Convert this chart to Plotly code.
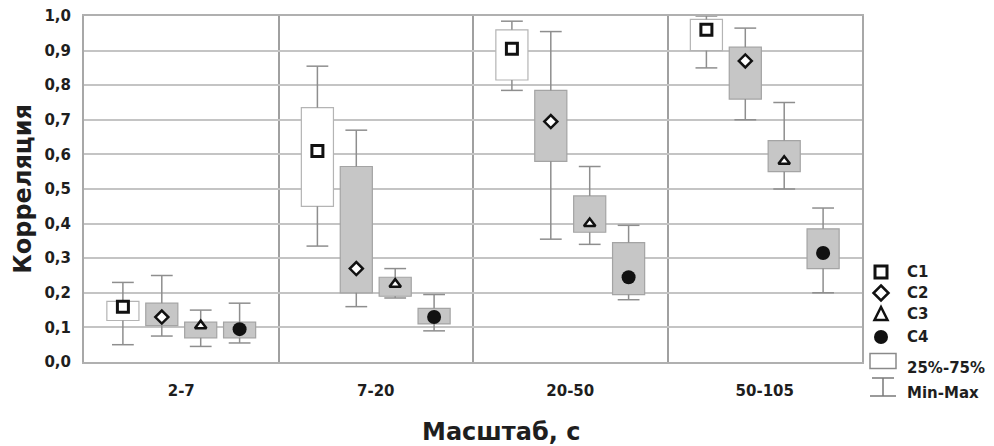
import plotly.graph_objects as go

# Scale bands (x categories) and the four correlation series
categories = ["2-7", "7-20", "20-50", "50-105"]
series_names = ["C1", "C2", "C3", "C4"]

# Per-series statistics for each scale band: min, 25%, marker value, 75%, max
c1_min = [0.050, 0.335, 0.785, 0.850]
c1_q1 = [0.120, 0.450, 0.815, 0.900]
c1_mid = [0.160, 0.610, 0.905, 0.960]
c1_q3 = [0.175, 0.735, 0.960, 0.990]
c1_max = [0.230, 0.855, 0.985, 1.000]

c2_min = [0.075, 0.160, 0.355, 0.700]
c2_q1 = [0.105, 0.200, 0.580, 0.760]
c2_mid = [0.130, 0.270, 0.695, 0.870]
c2_q3 = [0.170, 0.565, 0.785, 0.910]
c2_max = [0.250, 0.670, 0.955, 0.965]

c3_min = [0.045, 0.185, 0.340, 0.500]
c3_q1 = [0.070, 0.190, 0.375, 0.550]
c3_mid = [0.105, 0.225, 0.400, 0.580]
c3_q3 = [0.115, 0.245, 0.480, 0.640]
c3_max = [0.150, 0.270, 0.565, 0.750]

c4_min = [0.055, 0.090, 0.180, 0.200]
c4_q1 = [0.070, 0.110, 0.195, 0.270]
c4_mid = [0.095, 0.130, 0.245, 0.315]
c4_q3 = [0.115, 0.155, 0.345, 0.385]
c4_max = [0.170, 0.195, 0.395, 0.445]

y_ticks = [round(0.1 * i, 1) for i in range(11)]

stats = [
    (c1_min, c1_q1, c1_mid, c1_q3, c1_max),
    (c2_min, c2_q1, c2_mid, c2_q3, c2_max),
    (c3_min, c3_q1, c3_mid, c3_q3, c3_max),
    (c4_min, c4_q1, c4_mid, c4_q3, c4_max),
]

# Styling
FONT = dict(family="DejaVu Sans", size=15, color="#1e1e1e", weight="bold")
TITLE_FONT = dict(family="DejaVu Sans", size=24, color="#1e1e1e", weight="bold")
box_fill = ["#ffffff", "#c6c6c6", "#c6c6c6", "#c6c6c6"]
box_line = ["#b4b4b4", "#a4a4a4", "#a4a4a4", "#a4a4a4"]
whisker_color = "#8e8e8e"
markers = [
    dict(symbol="square", size=11, color="#ffffff", line=dict(color="#111111", width=3)),
    dict(symbol="diamond", size=10, color="#ffffff", line=dict(color="#111111", width=2.5)),
    dict(symbol="triangle-up", size=10, color="#ffffff", line=dict(color="#111111", width=2.5)),
    dict(symbol="circle", size=14, color="#111111", line=dict(color="#111111", width=0)),
]
offsets = [-0.3, -0.1, 0.1, 0.3]
box_width = 0.165
cap_half = 0.056

fig = go.Figure()
cat_pos = list(range(len(categories)))

# Interquartile boxes
for k, (vmin, q1, mid, q3, vmax) in enumerate(stats):
    xs = [c + offsets[k] for c in cat_pos]
    fig.add_trace(go.Bar(
        x=xs, base=q1, y=[b - a for a, b in zip(q1, q3)], width=box_width,
        marker=dict(color=box_fill[k], line=dict(color=box_line[k], width=1.2)),
        showlegend=False, hoverinfo="skip",
    ))

# Min-Max whiskers with caps
for k, (vmin, q1, mid, q3, vmax) in enumerate(stats):
    wx, wy = [], []
    for c, lo, a, b, hi in zip(cat_pos, vmin, q1, q3, vmax):
        x = c + offsets[k]
        wx += [x, x, None, x, x, None, x - cap_half, x + cap_half, None, x - cap_half, x + cap_half, None]
        wy += [lo, a, None, b, hi, None, lo, lo, None, hi, hi, None]
    fig.add_trace(go.Scatter(
        x=wx, y=wy, mode="lines", line=dict(color=whisker_color, width=1.5),
        showlegend=False, hoverinfo="skip", cliponaxis=False,
    ))

# Series markers
for k, (vmin, q1, mid, q3, vmax) in enumerate(stats):
    fig.add_trace(go.Scatter(
        x=[c + offsets[k] for c in cat_pos], y=mid, mode="markers",
        marker=markers[k], name=series_names[k], showlegend=False, cliponaxis=False,
    ))

# Plot area in pixels
L, R, T, B = 84, 132, 16, 84
W, H = 994, 446
pw, ph = W - L - R, H - T - B


def px(xp):
    return (xp - L) / pw


def py(yp):
    return (H - B - yp) / ph


# Hand-drawn legend at the right of the plot
shapes = []
annotations = []
sym_x = px(881)
text_x = px(905)
row_y = [272, 293, 314, 337]
sym_paths = [
    None,
    "M0,7.5 L7.5,0 L0,-7.5 L-7.5,0 Z",
    "M-6.5,-6 L6.5,-6 L0,7 Z",
    None,
]
for k, name in enumerate(series_names):
    common = dict(xref="paper", yref="paper", xsizemode="pixel", ysizemode="pixel",
                  xanchor=sym_x, yanchor=py(row_y[k]), layer="above")
    if k == 0:
        shapes.append(dict(type="rect", x0=-6, x1=6, y0=-6, y1=6,
                           line=dict(color="#111111", width=3), fillcolor="#ffffff", **common))
    elif k == 3:
        shapes.append(dict(type="circle", x0=-7, x1=7, y0=-7, y1=7,
                           line=dict(color="#111111", width=0), fillcolor="#111111", **common))
    else:
        shapes.append(dict(type="path", path=sym_paths[k],
                           line=dict(color="#111111", width=2.5), fillcolor="#ffffff", **common))
    annotations.append(dict(x=text_x, y=py(row_y[k]), xref="paper", yref="paper", text=name,
                            showarrow=False, xanchor="left", yanchor="middle", font=FONT))

# 25%-75% swatch
shapes.append(dict(type="rect", xref="paper", yref="paper", xsizemode="pixel", ysizemode="pixel",
                   xanchor=px(883), yanchor=py(361), x0=-13, x1=13, y0=-7.5, y1=7.5,
                   line=dict(color="#8a8a8a", width=1.5), fillcolor="#ffffff"))
annotations.append(dict(x=text_x, y=py(368), xref="paper", yref="paper", text="25%-75%",
                        showarrow=False, xanchor="left", yanchor="middle", font=FONT))

# Min-Max swatch (I-beam)
ibeam = "M-11,9 L11,9 M0,9 L0,-9 M-13,-9 L13,-9"
shapes.append(dict(type="path", xref="paper", yref="paper", xsizemode="pixel", ysizemode="pixel",
                   xanchor=px(883), yanchor=py(387), path=ibeam,
                   line=dict(color="#7a7a7a", width=1.5)))
annotations.append(dict(x=text_x, y=py(393), xref="paper", yref="paper", text="Min-Max",
                        showarrow=False, xanchor="left", yanchor="middle", font=FONT))

# x-axis title, centred on the whole figure
annotations.append(dict(x=px(W / 2 + 4), y=py(432), xref="paper", yref="paper", text="Масштаб, с",
                        showarrow=False, xanchor="center", yanchor="middle", font=TITLE_FONT))

fig.update_layout(
    width=W, height=H,
    margin=dict(l=L, r=R, t=T, b=B, pad=0),
    paper_bgcolor="#ffffff", plot_bgcolor="#ffffff",
    barmode="overlay", separators=", ",
    showlegend=False,
    shapes=shapes, annotations=annotations,
    font=FONT,
)
fig.update_xaxes(
    range=[-0.5, len(categories) - 0.5], tickmode="array", tickvals=cat_pos, ticktext=categories,
    showgrid=False, zeroline=False, ticks="", ticklabelstandoff=14, automargin=False,
    showline=True, mirror=True, linecolor="#b0b0b0", linewidth=2,
    minor=dict(tick0=0.5, dtick=1, showgrid=True, gridcolor="#a0a0a0", gridwidth=2, ticks=""),
    tickfont=FONT,
)
fig.update_yaxes(
    range=[0, 1], tickmode="array", tickvals=y_ticks, tickformat=".1f",
    showgrid=True, gridcolor="#c4c4c4", gridwidth=1.5, zeroline=False, ticks="",
    ticklabelstandoff=8, automargin=False,
    showline=True, mirror=True, linecolor="#a8a8a8", linewidth=2,
    tickfont=FONT,
    title=dict(text="Корреляция", font=TITLE_FONT, standoff=6),
)

fig.write_html("out.html")
